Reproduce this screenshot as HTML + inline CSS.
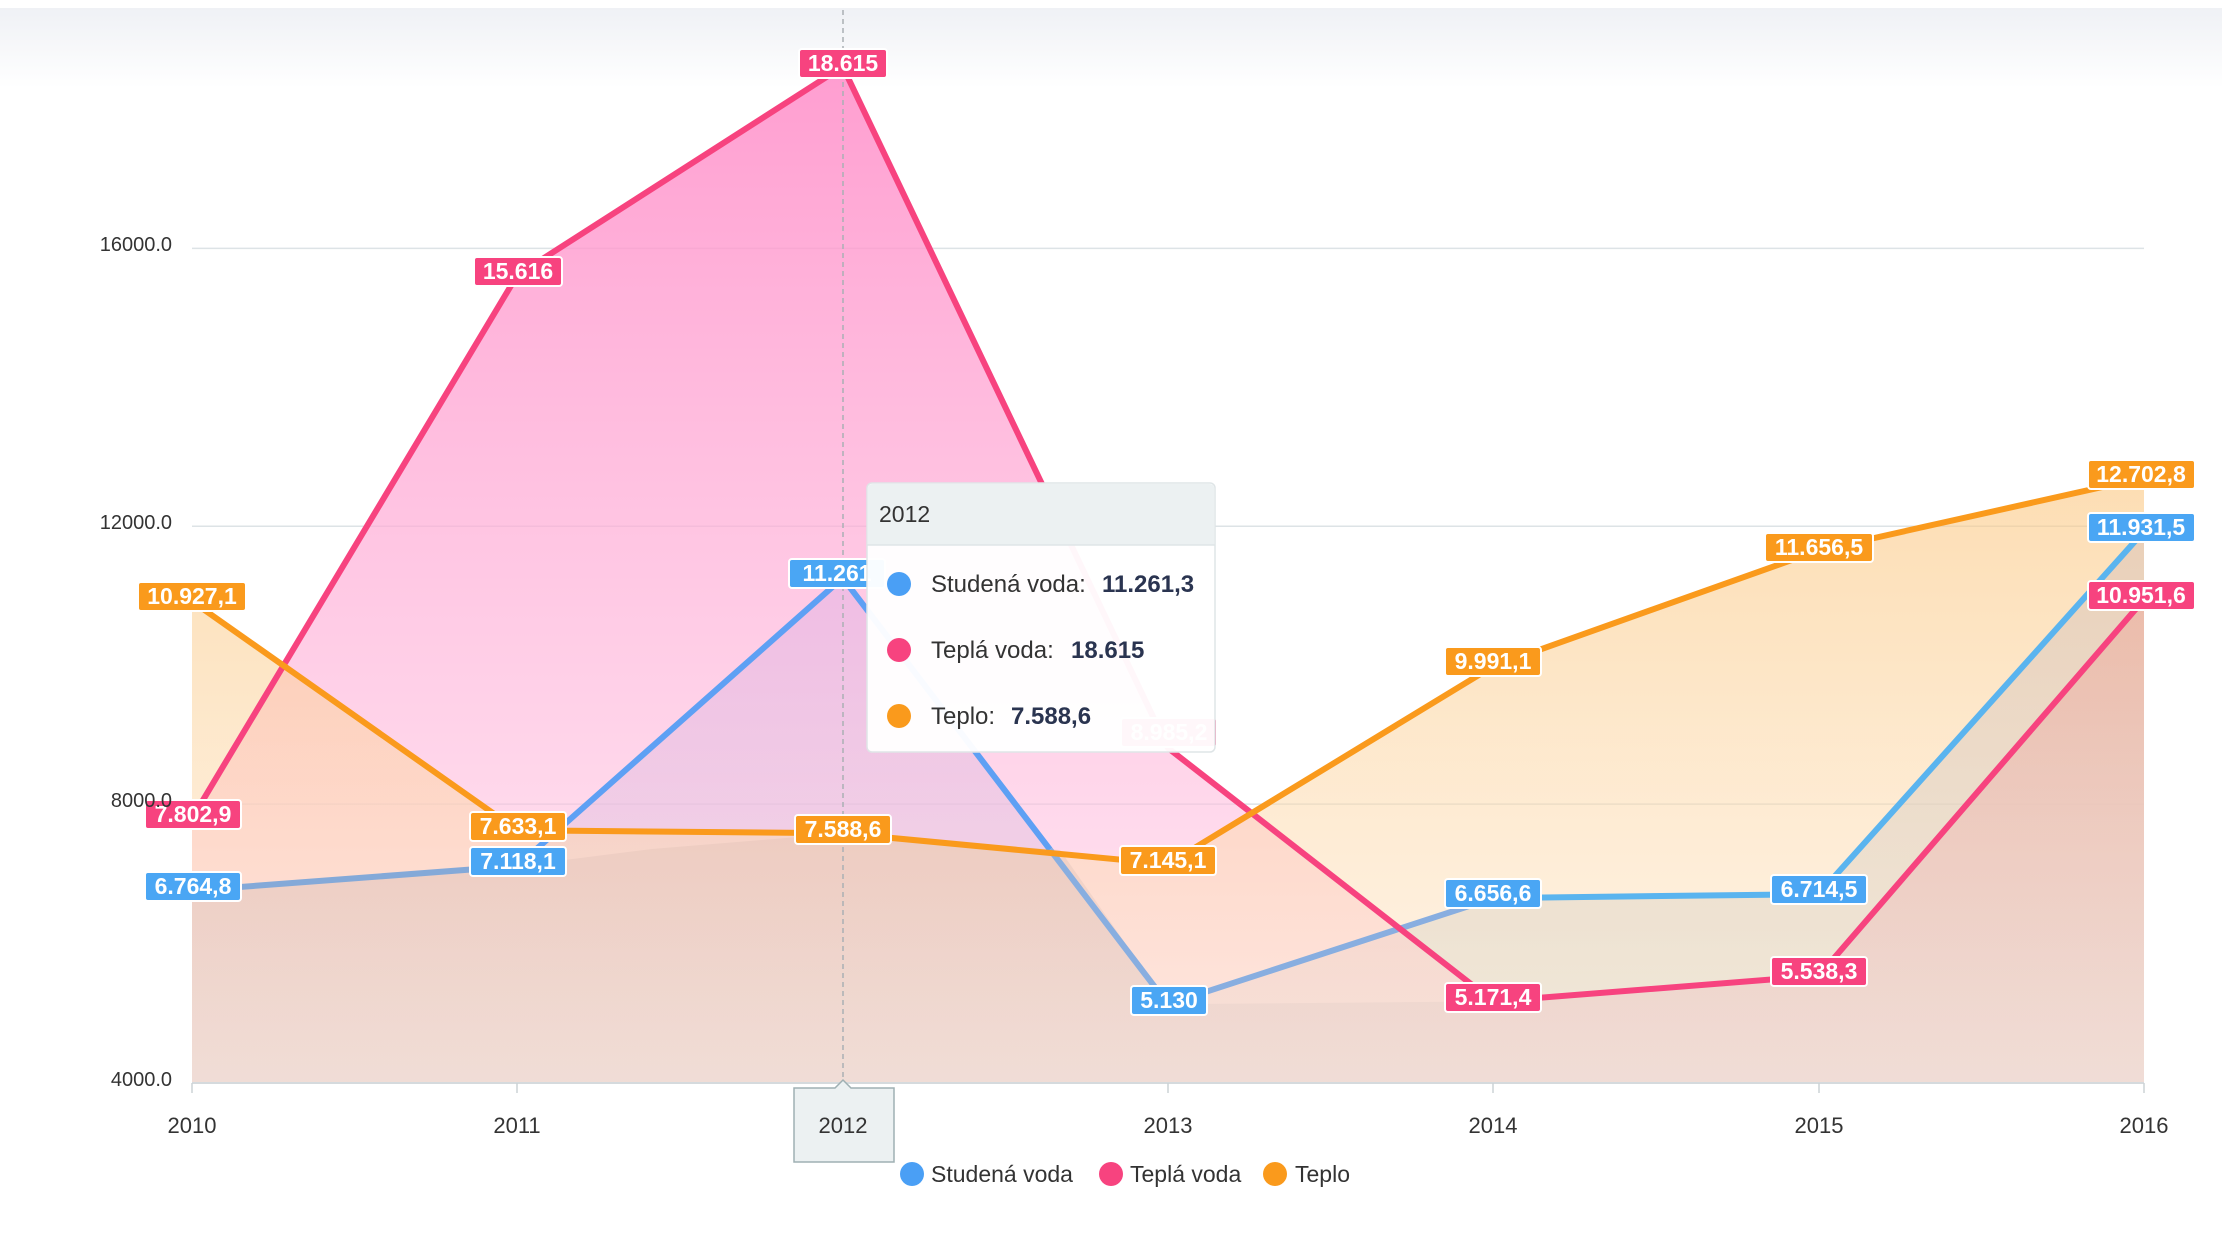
<!DOCTYPE html>
<html><head><meta charset="utf-8"><style>
html,body{margin:0;padding:0;background:#fff;}
svg{display:block;font-family:"Liberation Sans",sans-serif;}
</style></head><body>
<svg width="2222" height="1248" viewBox="0 0 2222 1248" xmlns="http://www.w3.org/2000/svg">
<defs>
<linearGradient id="top" x1="0" y1="0" x2="0" y2="1"><stop offset="0" stop-color="#eff1f5"/><stop offset="1" stop-color="#ffffff"/></linearGradient>
<linearGradient id="gp" x1="0" y1="0" x2="0" y2="1"><stop offset="0" stop-color="#ff8cc8" stop-opacity="0.85"/><stop offset="1" stop-color="#ffd0e6" stop-opacity="0.5"/></linearGradient>
<linearGradient id="go" x1="0" y1="0" x2="0" y2="1"><stop offset="0" stop-color="#fbc780" stop-opacity="0.6"/><stop offset="1" stop-color="#fde7cc" stop-opacity="0.45"/></linearGradient>
<linearGradient id="gb" x1="0" y1="0" x2="0" y2="1"><stop offset="0" stop-color="#a9b8ff" stop-opacity="0.55"/><stop offset="1" stop-color="#c9d3c6" stop-opacity="0.45"/></linearGradient>
<linearGradient id="gbase" x1="0" y1="0" x2="0" y2="1"><stop offset="0" stop-color="#d6a89a" stop-opacity="0.35"/><stop offset="1" stop-color="#e6d6d0" stop-opacity="0.4"/></linearGradient>
</defs>
<rect x="0" y="8" width="2222" height="80" fill="url(#top)"/>
<g stroke="#dde3e6" stroke-width="1.5">
<line x1="192" y1="248.4" x2="2144" y2="248.4"/>
<line x1="192" y1="526.3" x2="2144" y2="526.3"/>
<line x1="192" y1="804.1" x2="2144" y2="804.1"/>
</g>
<!-- fills -->
<polygon fill="url(#gb)" points="192,1083 192,890.6 517.3,866 842.7,577.9 1168,1004.2 1493.3,898.1 1818.7,894.1 2144,531.3 2144,1083"/>
<polygon fill="url(#gp)" points="192,1083 192,818.4 517.3,275.1 842.7,66.6 1168,748 1493.3,1001.4 1818.7,975.8 2144,599.5 2144,1083"/>
<polygon fill="url(#go)" points="192,1083 192,601.2 517.3,830.2 842.7,833.3 1168,864.1 1493.3,666.2 1818.7,550.4 2144,477.7 2144,1083"/>
<polygon fill="url(#gbase)" points="192,1083 192,890.6 517.3,866 652,849 842.7,833.3 1060,850 1168,1004.2 1493.3,1001.4 1818.7,975.8 2144,599.5 2144,1083"/>
<line x1="192" y1="1083" x2="2144" y2="1083" stroke="#d5dadd" stroke-width="2"/>
<g stroke="#ccd3d6" stroke-width="1.5">
<line x1="192" y1="1083" x2="192" y2="1093"/><line x1="517" y1="1083" x2="517" y2="1093"/><line x1="843" y1="1083" x2="843" y2="1093"/><line x1="1168" y1="1083" x2="1168" y2="1093"/><line x1="1493" y1="1083" x2="1493" y2="1093"/><line x1="1819" y1="1083" x2="1819" y2="1093"/><line x1="2144" y1="1083" x2="2144" y2="1093"/>
</g>
<!-- lines -->
<g fill="none" stroke-width="6" stroke-linejoin="round">
<polyline stroke="#84a9d8" points="192,890.6 517.3,866"/>
<polyline stroke="#5ea0f4" points="517.3,866 842.7,577.9 1050,849.6"/>
<polyline stroke="#88aee0" points="1050,849.6 1168,1004.2 1493.3,898.1"/>
<polyline stroke="#5ab4ef" points="1493.3,898.1 1818.7,894.1 2144,531.3"/>
<polyline stroke="#f7437f" points="192,818.4 517.3,275.1 842.7,66.6 1168,748 1493.3,1001.4 1818.7,975.8 2144,599.5"/>
<polyline stroke="#fa9a1c" points="192,601.2 517.3,830.2 842.7,833.3 1168,864.1 1493.3,666.2 1818.7,550.4 2144,477.7"/>
</g>
<line x1="843" y1="10" x2="843" y2="1083" stroke="#aab0b4" stroke-width="1.5" stroke-dasharray="5,4"/>
<!-- labels -->
<g font-size="23" font-weight="bold" fill="#fff" text-anchor="middle">
<g stroke="#fff" stroke-width="2">
<rect x="138" y="582" width="108" height="29" rx="3" fill="#fa9a1c"/>
<rect x="145" y="800" width="96" height="29" rx="3" fill="#f7437f"/>
<rect x="145" y="872" width="96" height="29" rx="3" fill="#4aa6f4"/>
<rect x="474" y="257" width="88" height="29" rx="3" fill="#f7437f"/>
<rect x="470" y="812" width="96" height="29" rx="3" fill="#fa9a1c"/>
<rect x="470" y="847" width="96" height="29" rx="3" fill="#4aa6f4"/>
<rect x="799" y="49" width="88" height="29" rx="3" fill="#f7437f"/>
<rect x="789" y="559" width="96" height="29" rx="3" fill="#4aa6f4"/>
<rect x="795" y="815" width="96" height="29" rx="3" fill="#fa9a1c"/>
<rect x="1121" y="718" width="96" height="29" rx="3" fill="#f7437f"/>
<rect x="1120" y="846" width="96" height="29" rx="3" fill="#fa9a1c"/>
<rect x="1131" y="986" width="76" height="29" rx="3" fill="#4aa6f4"/>
<rect x="1445" y="647" width="96" height="29" rx="3" fill="#fa9a1c"/>
<rect x="1445" y="879" width="96" height="29" rx="3" fill="#4aa6f4"/>
<rect x="1445" y="983" width="96" height="29" rx="3" fill="#f7437f"/>
<rect x="1765" y="533" width="108" height="29" rx="3" fill="#fa9a1c"/>
<rect x="1771" y="875" width="96" height="29" rx="3" fill="#4aa6f4"/>
<rect x="1771" y="957" width="96" height="29" rx="3" fill="#f7437f"/>
<rect x="2088" y="460" width="107" height="29" rx="3" fill="#fa9a1c"/>
<rect x="2088" y="513" width="107" height="29" rx="3" fill="#4aa6f4"/>
<rect x="2088" y="581" width="107" height="29" rx="3" fill="#f7437f"/>
</g>
<text x="192" y="604">10.927,1</text>
<text x="193" y="822">7.802,9</text>
<text x="193" y="894">6.764,8</text>
<text x="518" y="279">15.616</text>
<text x="518" y="834">7.633,1</text>
<text x="518" y="869">7.118,1</text>
<text x="843" y="71">18.615</text>
<text x="837" y="581">11.261</text>
<text x="843" y="837">7.588,6</text>
<text x="1169" y="740">8.985,2</text>
<text x="1168" y="868">7.145,1</text>
<text x="1169" y="1008">5.130</text>
<text x="1493" y="669">9.991,1</text>
<text x="1493" y="901">6.656,6</text>
<text x="1493" y="1005">5.171,4</text>
<text x="1819" y="555">11.656,5</text>
<text x="1819" y="897">6.714,5</text>
<text x="1819" y="979">5.538,3</text>
<text x="2141" y="482">12.702,8</text>
<text x="2141" y="535">11.931,5</text>
<text x="2141" y="603">10.951,6</text>
</g>
<!-- tooltip -->
<g>
<rect x="867" y="483" width="348" height="269" rx="5" fill="#ffffff" fill-opacity="0.96" stroke="#dfe5e7" stroke-width="1.5"/>
<path d="M868,545 L868,488 Q868,484 873,484 L1209,484 Q1214,484 1214,488 L1214,545 Z" fill="#ecf1f2"/>
<line x1="867" y1="545" x2="1215" y2="545" stroke="#dfe5e7" stroke-width="1.5"/>
<text x="879" y="522" font-size="23" fill="#333">2012</text>
<circle cx="899" cy="584" r="12" fill="#4a9ff5"/>
<circle cx="899" cy="650" r="12" fill="#f7437f"/>
<circle cx="899" cy="716" r="12" fill="#fa9a1c"/>
<g font-size="24" fill="#333">
<text x="931" y="592">Studená voda:</text>
<text x="1102" y="592" font-weight="bold" fill="#2a3450">11.261,3</text>
<text x="931" y="658">Teplá voda:</text>
<text x="1071" y="658" font-weight="bold" fill="#2a3450">18.615</text>
<text x="931" y="724">Teplo:</text>
<text x="1011" y="724" font-weight="bold" fill="#2a3450">7.588,6</text>
</g>
</g>
<!-- axis labels -->
<g font-size="20" fill="#333" text-anchor="end">
<text x="172" y="251">16000.0</text>
<text x="172" y="529">12000.0</text>
<text x="172" y="807">8000.0</text>
<text x="172" y="1086">4000.0</text>
</g>
<path d="M794,1088 L835,1088 L843,1080 L851,1088 L894,1088 L894,1162 L794,1162 Z" fill="#ecf1f2" stroke="#9fb0b3" stroke-width="1.5"/>
<g font-size="22" fill="#333" text-anchor="middle">
<text x="192" y="1133">2010</text>
<text x="517" y="1133">2011</text>
<text x="843" y="1133">2012</text>
<text x="1168" y="1133">2013</text>
<text x="1493" y="1133">2014</text>
<text x="1819" y="1133">2015</text>
<text x="2144" y="1133">2016</text>
</g>
<g font-size="23" fill="#333">
<circle cx="912" cy="1174" r="12" fill="#4a9ff5"/><text x="931" y="1182">Studená voda</text>
<circle cx="1111" cy="1174" r="12" fill="#f7437f"/><text x="1130" y="1182">Teplá voda</text>
<circle cx="1275" cy="1174" r="12" fill="#fa9a1c"/><text x="1295" y="1182">Teplo</text>
</g>
</svg>
</body></html>
